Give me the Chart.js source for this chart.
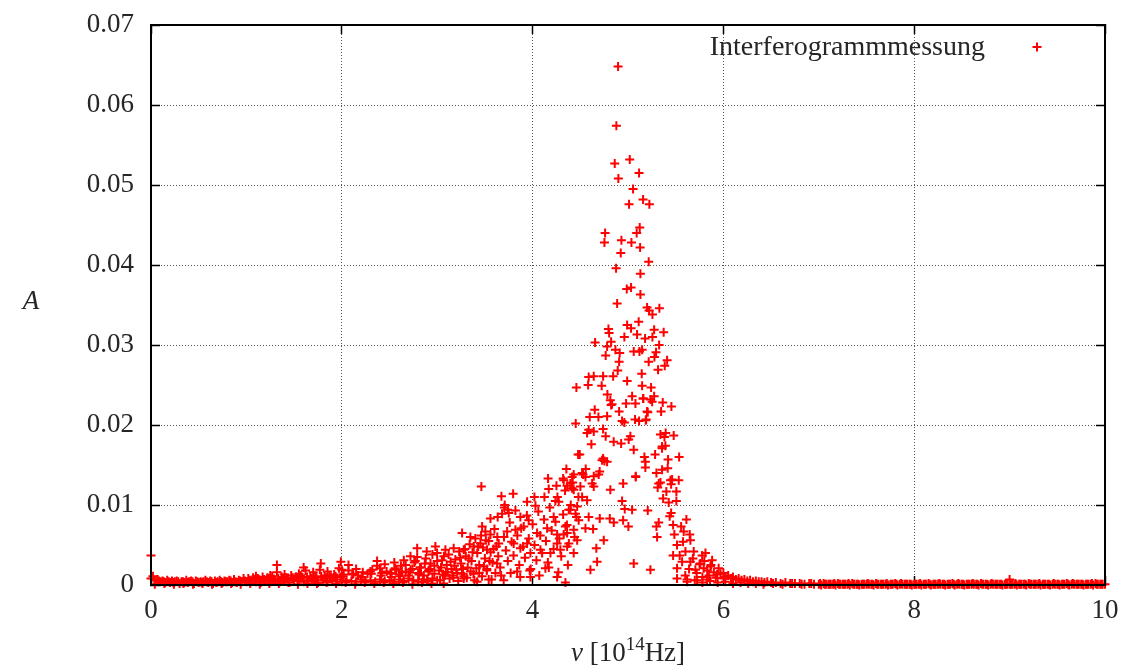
<!DOCTYPE html>
<html>
<head>
<meta charset="utf-8">
<script src="https://cdn.jsdelivr.net/npm/chart.js@4.4.1/dist/chart.umd.min.js"></script>
<style>
  html, body { margin: 0; padding: 0; background: #fff; }
</style>
</head>
<body>
<canvas id="spec" width="1134" height="669"></canvas>
<script>
// axis ticks
const xTicks = [0, 2, 4, 6, 8, 10];
const xTickLabels = ['0', '2', '4', '6', '8', '10'];
const yTicks = [0, 0.01, 0.02, 0.03, 0.04, 0.05, 0.06, 0.07];
const yTickLabels = ['0', '0.01', '0.02', '0.03', '0.04', '0.05', '0.06', '0.07'];

// low band 0 .. 3
const baseLowerNu = [
  0.00,0.05,0.10,0.15,0.20,0.25,0.30,0.35,0.40,0.45,
  0.50,0.55,0.60,0.65,0.70,0.75,0.80,0.85,0.90,0.95,
  1.00,1.05,1.10,1.15,1.20,1.25,1.30,1.35,1.40,1.45,
  1.50,1.55,1.60,1.65,1.70,1.75,1.80,1.85,1.90,1.95,
  2.00,2.05,2.10,2.15,2.20,2.25,2.30,2.35,2.40,2.45,
  2.50,2.55,2.60,2.65,2.70,2.75,2.80,2.85,2.90,2.95,
  3.00];
const baseLowerA = [
  .0008,.0006,.0004,.0003,.0003,.0004,.0002,.0003,.0004,.0002,
  .0003,.0004,.0003,.0002,.0004,.0003,.0004,.0003,.0003,.0004,
  .0004,.0005,.0004,.0003,.0005,.0004,.0006,.0004,.0005,.0003,
  .0006,.0005,.0004,.0006,.0005,.0003,.0006,.0004,.0005,.0007,
  .0004,.0006,.0005,.0004,.0007,.0005,.0006,.0004,.0007,.0005,
  .0006,.0004,.0007,.0005,.0008,.0006,.0004,.0007,.0005,.0008,
  .0006];
const baseUpperNu = [
  0.02,0.07,0.12,0.17,0.22,0.27,0.32,0.37,0.42,0.47,
  0.52,0.57,0.62,0.67,0.72,0.77,0.82,0.87,0.92,0.97,
  1.02,1.07,1.12,1.17,1.22,1.27,1.32,1.37,1.42,1.47,
  1.52,1.57,1.62,1.67,1.72,1.77,1.82,1.87,1.92,1.97,
  2.02,2.07,2.12,2.17,2.22,2.27,2.32,2.37,2.42,2.47,
  2.52,2.57,2.62,2.67,2.72,2.77,2.82,2.87,2.92,2.97];
const baseUpperA = [
  .0011,.0007,.0005,.0006,.0005,.0005,.0004,.0006,.0005,.0005,
  .0004,.0006,.0005,.0005,.0006,.0005,.0006,.0007,.0006,.0008,
  .0008,.0009,.0008,.0010,.0009,.0011,.0016,.0010,.0009,.0012,
  .0010,.0012,.0018,.0011,.0010,.0019,.0012,.0011,.0013,.0021,
  .0013,.0018,.0014,.0012,.0016,.0014,.0019,.0024,.0015,.0017,
  .0014,.0019,.0024,.0016,.0019,.0030,.0022,.0027,.0020,.0024];
const baseFineNu = [
  0.035,0.085,0.135,0.185,0.235,0.285,0.335,0.385,0.435,0.485,
  0.535,0.585,0.635,0.685,0.735,0.785,0.835,0.885,0.935,0.985,
  1.035,1.085,1.135,1.185,1.235,1.285,1.335,1.385,1.435,1.485,
  1.535,1.585,1.635,1.685,1.735,1.785,1.835,1.885,1.935,1.985];
const baseFineA = [
  .0006,.0005,.0004,.0004,.0003,.0004,.0004,.0003,.0004,.0004,
  .0003,.0004,.0004,.0003,.0004,.0004,.0005,.0004,.0005,.0005,
  .0006,.0007,.0006,.0007,.0008,.0007,.0008,.0007,.0008,.0009,
  .0008,.0009,.0010,.0008,.0009,.0011,.0009,.0010,.0011,.0010];
const baseFloorNu = [
  0.04,0.14,0.24,0.34,0.44,0.54,0.64,0.74,0.84,0.94,
  1.04,1.14,1.24,1.34,1.44,1.54,1.64,1.74,1.84,1.94,
  2.04,2.14,2.24,2.34,2.44,2.54,2.64,2.74,2.84,2.94];
const baseFloorA = [
  .0001,.0002,.0001,.0002,.0001,.0002,.0001,.0002,.0002,.0001,
  .0002,.0001,.0002,.0002,.0003,.0001,.0002,.0002,.0003,.0002,
  .0003,.0001,.0003,.0002,.0003,.0002,.0003,.0001,.0003,.0002];
const baseMidNu = [2.01,2.11,2.21,2.31,2.41,2.51,2.61,2.71,2.81,2.91];
const baseMidA = [.0011,.0013,.0010,.0014,.0012,.0015,.0011,.0016,.0013,.0017];
const baseSpikeNu = [0.00,1.32,1.60,1.78,1.99,2.07,2.37,2.45,2.55,2.65,2.72,2.79,2.79,2.89,2.95];
const baseSpikeA = [.0037,.0025,.0022,.0027,.0029,.0025,.0030,.0026,.0028,.0031,.0036,.0046,.0035,.0042,.0038];
const baseScatterNu = [
  1.10,1.25,1.40,1.55,1.70,1.85,2.00,2.15,2.30,2.40,
  2.52,2.56,2.60,2.63,2.67,2.70,2.74,2.76,2.80,2.83,
  2.86,2.88,2.91,2.93,2.97,3.00,3.04,3.07,3.09,3.14,
  3.18,3.24,3.27,3.29,3.33,3.37,3.41,3.43,3.49,3.51,
  3.55,3.59,3.61,3.63];
const baseScatterA = [
  .0011,.0012,.0013,.0014,.0016,.0017,.0019,.0020,.0017,.0021,
  .0010,.0021,.0013,.0017,.0025,.0012,.0020,.0028,.0015,.0022,
  .0012,.0033,.0018,.0027,.0014,.0030,.0022,.0036,.0016,.0029,
  .0024,.0034,.0020,.0045,.0033,.0041,.0021,.0048,.0023,.0056,
  .0030,.0045,.0015,.0060];

// rising flank 3 .. 4.7
const rampNu = [
  3.463,4.162,4.320,4.414,4.169,4.250,4.362,4.431,3.673,3.796,
  3.708,3.739,3.750,3.704,4.019,4.030,3.942,4.124,4.239,4.274,
  4.379,4.449,4.467,3.634,3.558,3.872,3.959,4.221,3.471,3.505,
  3.558,3.261,3.348,3.733,3.820,3.907,4.047,4.152,4.257,4.344,
  4.362,3.645,3.802,3.872,3.942,3.173,3.278,3.383,3.453,3.523,
  3.977,4.082,4.187,4.291,4.431,2.981,3.086,2.999,3.628,3.838,
  3.977,4.134,4.257,4.344,3.697,3.540,3.418,3.278,3.068,2.894,
  4.354,4.519,4.554,4.624,4.693,4.326,4.414,4.519,4.571,4.396,
  4.483,4.431,4.326,4.257,4.362,4.467,4.554,4.588];
const rampA = [
  .0123,.0133,.0133,.0135,.0120,.0124,.0124,.0119,.0111,.0114,
  .0100,.0094,.0090,.0097,.0110,.0099,.0104,.0110,.0105,.0104,
  .0094,.0089,.0098,.0085,.0083,.0085,.0081,.0085,.0073,.0067,
  .0063,.0065,.0060,.0067,.0069,.0073,.0065,.0071,.0063,.0073,
  .0065,.0052,.0052,.0046,.0052,.0046,.0044,.0048,.0052,.0044,
  .0040,.0044,.0040,.0044,.0040,.0048,.0044,.0040,.0027,.0017,
  .0010,.0021,.0010,.0003,.0006,.0007,.0004,.0008,.0002,.0006,
  .0145,.0140,.0135,.0127,.0138,.0131,.0121,.0110,.0106,.0094,
  .0081,.0069,.0063,.0052,.0048,.0056,.0071,.0085];
const rampFillNu = [
  3.02,3.05,3.08,3.10,3.12,3.15,3.17,3.19,3.21,3.23,
  3.25,3.28,3.30,3.32,3.34,3.36,3.38,3.40,3.42,3.44,
  3.46,3.48,3.50,3.52,3.54,3.56,3.58,3.60,3.62,3.64,
  3.66,3.68,3.70,3.72,3.74,3.76,3.78,3.80,3.82,3.84,
  3.86,3.88,3.90,3.92,3.94,3.96,3.98,4.00,4.02,4.04,
  4.06,4.08,4.10,4.12,4.14,4.16,4.18,4.20,4.22,4.24,
  4.26,4.28,4.30,4.32,4.34,4.36,4.38,4.40,4.42,4.44,
  4.46,4.48];
const rampFillA = [
  .0018,.0031,.0012,.0025,.0038,.0020,.0009,.0032,.0015,.0042,
  .0027,.0011,.0036,.0022,.0051,.0030,.0014,.0058,.0040,.0025,
  .0062,.0047,.0033,.0018,.0055,.0041,.0028,.0070,.0048,.0036,
  .0022,.0089,.0060,.0043,.0030,.0078,.0054,.0037,.0093,.0062,
  .0025,.0071,.0048,.0034,.0087,.0058,.0020,.0076,.0050,.0031,
  .0092,.0062,.0040,.0082,.0055,.0028,.0097,.0068,.0045,.0079,
  .0110,.0058,.0036,.0088,.0118,.0075,.0052,.0100,.0128,.0060,
  .0085,.0110];
const rampLowNu = [
  3.03,3.06,3.11,3.13,3.16,3.20,3.22,3.26,3.31,3.35,
  3.39,3.44,3.47,3.52,3.57,3.67,3.77,3.87,3.97,4.07,
  4.17,4.27,4.37];
const rampLowA = [
  .0006,.0013,.0016,.0008,.0012,.0019,.0005,.0014,.0009,.0017,
  .0006,.0015,.0011,.0020,.0007,.0012,.0015,.0010,.0018,.0012,
  .0022,.0016,.0025];

// main peak 4.4 .. 6
const peakNu = [
  4.896,4.878,4.861,5.018,5.116,4.899,5.053,5.158,5.011,5.224,
  5.123,5.091,4.760,4.753,4.931,5.036,5.127,4.924,5.217,4.875,
  5.130,4.987,5.032,5.130,4.886,5.200,5.221,5.256,5.329,5.112,
  4.795,4.802,4.991,5.032,5.095,5.179,5.256,5.274,5.374,4.962,
  4.655,4.823,4.781,5.326,4.868,4.913,5.060,5.120,5.148,5.294,
  5.277,4.766,4.907,5.217,5.410,5.385,4.892,5.315,5.144,4.844,
  4.588,4.641,4.739,4.582,4.724,4.459,4.991,5.148,5.242,4.784,
  5.043,4.815,4.833,4.823,5.161,5.235,5.274,4.980,5.078,5.364,
  5.455,4.651,4.907,5.207,4.599,4.690,4.781,4.938,4.962,5.074,
  5.116,5.190,4.452,4.588,4.571,4.641,4.739,4.766,5.025,5.007,
  5.340,5.395,5.479,5.382,4.616,4.850,4.928,5.357,5.392,5.060,
  4.494,5.284,5.536,5.172,5.182,4.728,4.781,4.739,5.420,5.416,
  5.357,4.557,4.431,4.529,4.641,4.703,5.081,5.298,5.445,5.532,
  4.949,4.396,4.501,4.641,5.322,4.477,5.158,5.253,5.200,5.347,
  5.186,5.357,5.182,5.462,5.340,5.452,5.311,5.402,5.507,5.368,
  5.427,5.507,5.207,5.452,5.437,5.612,5.322,5.298,5.305,5.473,
  5.557,5.486,5.584,5.647,5.514,5.577,5.654,5.473,5.542,5.602,
  5.689,5.777,5.812,5.882,5.567,5.654,5.759,5.514,5.706,5.794,
  5.864,5.235,5.514,5.619,5.724,5.829,5.934,6.004,5.060,4.606,
  4.676,4.668,4.746,4.634,4.704,4.809,4.851,4.949,5.004,4.938,
  4.966,5.043,4.815,5.081,4.753];
const peakA = [
  .0648,.0574,.0527,.0532,.0515,.0508,.0495,.0482,.0476,.0476,
  .0447,.0440,.0440,.0428,.0431,.0428,.0422,.0415,.0404,.0396,
  .0389,.0370,.0372,.0363,.0352,.0347,.0343,.0338,.0346,.0329,
  .0320,.0315,.0325,.0321,.0313,.0308,.0310,.0319,.0316,.0310,
  .0303,.0304,.0298,.0300,.0294,.0290,.0292,.0292,.0294,.0291,
  .0285,.0287,.0279,.0279,.0281,.0274,.0268,.0269,.0264,.0261,
  .0260,.0261,.0261,.0250,.0249,.0247,.0255,.0249,.0247,.0238,
  .0236,.0231,.0226,.0225,.0233,.0232,.0236,.0227,.0227,.0228,
  .0223,.0219,.0217,.0216,.0210,.0210,.0211,.0205,.0203,.0207,
  .0205,.0207,.0202,.0194,.0190,.0192,.0195,.0186,.0186,.0182,
  .0188,.0190,.0187,.0185,.0176,.0179,.0177,.0173,.0174,.0169,
  .0163,.0163,.0160,.0160,.0154,.0156,.0154,.0158,.0157,.0146,
  .0144,.0145,.0138,.0138,.0136,.0142,.0136,.0140,.0131,.0131,
  .0127,.0127,.0123,.0123,.0127,.0163,.0233,.0229,.0217,.0217,
  .0206,.0171,.0147,.0132,.0128,.0126,.0122,.0117,.0117,.0108,
  .0103,.0105,.0093,.0090,.0086,.0082,.0078,.0073,.0060,.0075,
  .0073,.0063,.0067,.0063,.0050,.0054,.0056,.0037,.0037,.0042,
  .0042,.0037,.0040,.0031,.0029,.0029,.0027,.0021,.0019,.0021,
  .0023,.0019,.0008,.0007,.0006,.0007,.0013,.0008,.0027,.0019,
  .0029,.0046,.0056,.0070,.0083,.0083,.0078,.0081,.0073,.0105,
  .0095,.0094,.0119,.0135,.0155];

// falling tail 5.6 .. 10
const tailNu = [
  5.60,5.64,5.68,5.72,5.75,5.78,5.80,5.83,5.85,5.87,
  5.90,5.92,5.95,5.97,6.00,6.02,6.05,6.08,6.10,6.13,
  6.16,6.19,6.22,6.25,6.28,6.31,6.34,6.37,6.40,6.43,
  6.46,6.50,6.55,6.60,6.65,6.70,6.75,6.80,6.85,6.90,
  6.95];
const tailA = [
  .0012,.0020,.0033,.0015,.0026,.0010,.0030,.0018,.0012,.0025,
  .0016,.0009,.0021,.0014,.0015,.0010,.0012,.0008,.0010,.0007,
  .0008,.0006,.0007,.0005,.0006,.0004,.0005,.0004,.0004,.0003,
  .0004,.0003,.0003,.0002,.0003,.0002,.0002,.0002,.0001,.0002,
  .0001];
const tailLowNu = [5.62,5.70,5.78,5.86,5.94,6.02,6.10,6.18,6.26,6.34,6.42,6.52,6.62,6.72,6.82,6.92];
const tailLowA = [.0004,.0006,.0003,.0005,.0003,.0004,.0002,.0003,.0002,.0002,.0001,.0002,.0001,.0002,.0001,.0002];
const floorNu = [
  7.00,7.05,7.10,7.15,7.20,7.25,7.30,7.35,7.40,7.45,
  7.50,7.55,7.60,7.65,7.70,7.75,7.80,7.85,7.90,7.95,
  8.00,8.05,8.10,8.15,8.20,8.25,8.30,8.35,8.40,8.45,
  8.50,8.55,8.60,8.65,8.70,8.75,8.80,8.85,8.90,8.95,
  9.00,9.05,9.10,9.15,9.20,9.25,9.30,9.35,9.40,9.45,
  9.50,9.55,9.60,9.65,9.70,9.75,9.80,9.85,9.90,9.95,
  10.00];
const floorA = [
  .0001,.0002,.0001,.0001,.0002,.0001,.0001,.0002,.0001,.0001,
  .0001,.0001,.0002,.0001,.0001,.0001,.0002,.0001,.0001,.0001,
  .0001,.0001,.0001,.0002,.0001,.0001,.0001,.0001,.0002,.0001,
  .0001,.0001,.0001,.0001,.0002,.0001,.0001,.0001,.0001,.0001,
  .0001,.0001,.0001,.0001,.0002,.0001,.0001,.0001,.0001,.0001,
  .0001,.0001,.0002,.0001,.0001,.0001,.0001,.0001,.0002,.0001,
  .0001];
const floorMidNu = [
  7.025,7.075,7.125,7.175,7.225,7.275,7.325,7.375,7.425,7.475,
  7.525,7.575,7.625,7.675,7.725,7.775,7.825,7.875,7.925,7.975,
  8.025,8.075,8.125,8.175,8.225,8.275,8.325,8.375,8.425,8.475,
  8.525,8.575,8.625,8.675,8.725,8.775,8.825,8.875,8.925,8.975,
  9.025,9.075,9.125,9.175,9.225,9.275,9.325,9.375,9.425,9.475,
  9.525,9.575,9.625,9.675,9.725,9.775,9.825,9.875,9.925,9.975];
const floorMidA = [
  .0000,.0001,.0001,.0000,.0001,.0001,.0000,.0001,.0000,.0001,
  .0001,.0000,.0001,.0001,.0000,.0001,.0000,.0001,.0001,.0000,
  .0001,.0000,.0001,.0000,.0001,.0001,.0000,.0001,.0000,.0001,
  .0000,.0001,.0001,.0000,.0001,.0000,.0001,.0001,.0000,.0001,
  .0001,.0000,.0001,.0000,.0001,.0001,.0000,.0001,.0000,.0001,
  .0000,.0001,.0000,.0001,.0001,.0000,.0001,.0000,.0001,.0001];
const floorFineNu = [
  7.0125,7.0625,7.1125,7.1625,7.2125,7.2625,7.3125,7.3625,7.4125,7.4625,
  7.5125,7.5625,7.6125,7.6625,7.7125,7.7625,7.8125,7.8625,7.9125,7.9625,
  8.0125,8.0625,8.1125,8.1625,8.2125,8.2625,8.3125,8.3625,8.4125,8.4625,
  8.5125,8.5625,8.6125,8.6625,8.7125,8.7625,8.8125,8.8625,8.9125,8.9625,
  9.0125,9.0625,9.1125,9.1625,9.2125,9.2625,9.3125,9.3625,9.4125,9.4625,
  9.5125,9.5625,9.6125,9.6625,9.7125,9.7625,9.8125,9.8625,9.9125,9.9625];
const floorFineA = [
  .0002,.0001,.0001,.0002,.0001,.0001,.0002,.0001,.0001,.0001,
  .0002,.0001,.0001,.0001,.0002,.0001,.0001,.0002,.0001,.0001,
  .0001,.0002,.0001,.0001,.0001,.0002,.0001,.0001,.0001,.0002,
  .0001,.0001,.0002,.0001,.0001,.0001,.0002,.0001,.0001,.0001,
  .0001,.0002,.0001,.0001,.0001,.0001,.0002,.0001,.0001,.0002,
  .0001,.0001,.0001,.0002,.0001,.0001,.0001,.0002,.0001,.0001];
const tailSpikeNu = [9.00];
const tailSpikeA = [.0007];

const serif = "'Liberation Serif', 'Times New Roman', serif";
const ink = '#262626';

let points = [];
function addPairs(nu, a) {
  for (let i = 0; i < nu.length; i++) points.push({x: nu[i], y: a[i]});
}
addPairs(baseLowerNu, baseLowerA);
addPairs(baseUpperNu, baseUpperA);
addPairs(baseFineNu, baseFineA);
addPairs(baseFloorNu, baseFloorA);
addPairs(baseMidNu, baseMidA);
addPairs(baseSpikeNu, baseSpikeA);
addPairs(baseScatterNu, baseScatterA);
addPairs(rampNu, rampA);
addPairs(rampFillNu, rampFillA);
addPairs(rampLowNu, rampLowA);
addPairs(peakNu, peakA);
addPairs(tailNu, tailA);
addPairs(tailLowNu, tailLowA);
addPairs(floorNu, floorA);
addPairs(floorMidNu, floorMidA);
addPairs(floorFineNu, floorFineA);
addPairs(tailSpikeNu, tailSpikeA);

// legend key + axis titles, gnuplot style
const gnuText = {
  id: 'gnuText',
  afterDraw(chart) {
    const ctx = chart.ctx;
    const area = chart.chartArea;
    const ds = chart.data.datasets[0];
    ctx.save();
    ctx.fillStyle = ink;
    ctx.textBaseline = 'alphabetic';

    ctx.font = '28px ' + serif;
    ctx.textAlign = 'right';
    ctx.fillText(ds.label, area.right - 120, area.top + 30);
    let mx = area.right - 68, my = area.top + 22;
    ctx.strokeStyle = ds.borderColor;
    ctx.lineWidth = 2;
    ctx.beginPath();
    ctx.moveTo(mx - 4.5, my); ctx.lineTo(mx + 4.5, my);
    ctx.moveTo(mx, my - 4.5); ctx.lineTo(mx, my + 4.5);
    ctx.stroke();

    // y title
    ctx.textAlign = 'center';
    ctx.font = 'italic 27px ' + serif;
    ctx.fillText('A', 31, 309);

    // x title with superscript
    const parts = [
      {t: 'ν', f: 'italic 27px ' + serif, dy: 0},
      {t: ' [10', f: '27px ' + serif, dy: 0},
      {t: '14', f: '19px ' + serif, dy: -11},
      {t: 'Hz]', f: '27px ' + serif, dy: 0}
    ];
    let total = 0;
    parts.forEach(p => { ctx.font = p.f; p.w = ctx.measureText(p.t).width; total += p.w; });
    let x = (area.left + area.right) / 2 - total / 2;
    ctx.textAlign = 'left';
    parts.forEach(p => { ctx.font = p.f; ctx.fillText(p.t, x, 661 + p.dy); x += p.w; });
    ctx.restore();
  }
};

function setTicks(list) {
  return s => { s.ticks = list.map(v => ({value: v})); };
}
// fixed axis box sizes, no extra edge padding from the labels
function fixBox(w, h) {
  return s => {
    if (w !== null) s.width = w;
    if (h !== null) s.height = h;
    s.paddingTop = 0; s.paddingBottom = 0; s.paddingLeft = 0; s.paddingRight = 0;
  };
}

const tickGrid = {color: '#555', lineWidth: 1, drawTicks: true, tickLength: -9, tickColor: '#000', tickWidth: 1.5};
const mirrorGrid = {drawOnChartArea: false, drawTicks: true, tickLength: -9, tickColor: '#000', tickWidth: 1.5};
const frame = {display: true, color: '#000', width: 2, dash: [1, 2], z: 1};

new Chart(document.getElementById('spec'), {
  type: 'scatter',
  data: {
    datasets: [{
      label: 'Interferogrammmessung',
      data: points,
      pointStyle: 'cross',
      pointRadius: 4.5,
      pointHoverRadius: 4.5,
      borderColor: '#ff0000',
      backgroundColor: '#ff0000',
      pointBorderWidth: 2,
      clip: false
    }]
  },
  options: {
    responsive: false,
    animation: false,
    devicePixelRatio: 1,
    layout: {padding: {top: 25, right: 29, left: 0, bottom: 0}},
    plugins: {legend: {display: false}, tooltip: {enabled: false}},
    scales: {
      x: {
        type: 'linear', position: 'bottom', min: 0, max: 10,
        afterFit: fixBox(null, 84),
        afterBuildTicks: setTicks(xTicks),
        ticks: {callback: (v, i) => xTickLabels[i], font: {family: serif, size: 27}, color: ink, padding: 19, maxRotation: 0, autoSkip: false},
        grid: tickGrid,
        border: frame
      },
      x2: {
        type: 'linear', position: 'top', min: 0, max: 10,
        afterFit: fixBox(null, 0),
        afterBuildTicks: setTicks(xTicks),
        ticks: {display: false},
        grid: mirrorGrid,
        border: frame
      },
      y: {
        type: 'linear', position: 'left', min: 0, max: 0.07,
        afterFit: fixBox(151, null),
        afterBuildTicks: setTicks(yTicks),
        ticks: {callback: (v, i) => yTickLabels[i], font: {family: serif, size: 27}, color: ink, padding: 26, autoSkip: false},
        grid: tickGrid,
        border: frame
      },
      y2: {
        type: 'linear', position: 'right', min: 0, max: 0.07,
        afterFit: fixBox(0, null),
        afterBuildTicks: setTicks(yTicks),
        ticks: {display: false},
        grid: mirrorGrid,
        border: frame
      }
    }
  },
  plugins: [gnuText]
});
</script>
</body>
</html>
